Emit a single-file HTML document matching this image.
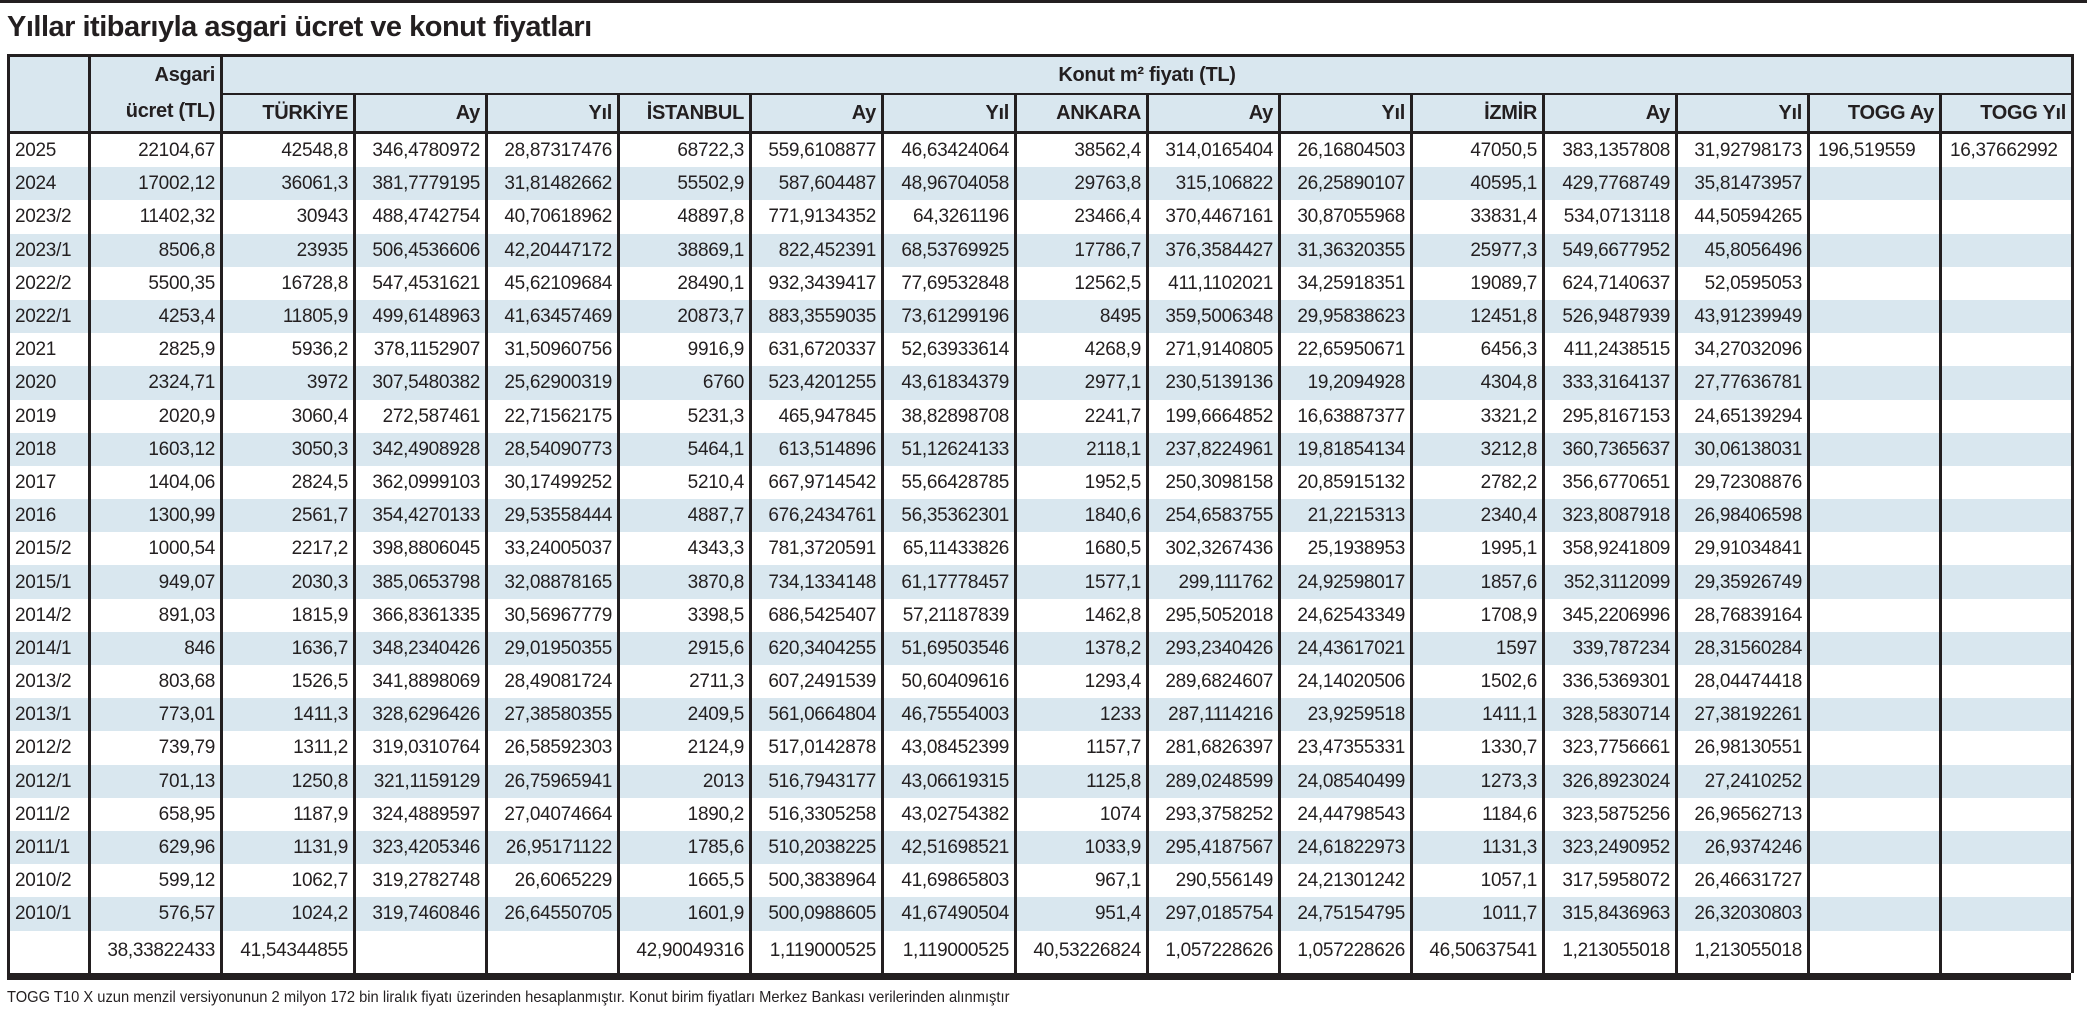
<!DOCTYPE html>
<html><head><meta charset="utf-8">
<style>
body{margin:0;width:2087px;height:1019px;background:#fff;position:relative;overflow:hidden;font-family:"Liberation Sans Narrow","Liberation Sans",sans-serif;color:#231f20}
.rule{position:absolute;left:0;top:0;width:2087px;height:3px;background:#231f20}
.title{position:absolute;left:7px;top:11px;font-size:29px;font-weight:bold;letter-spacing:-0.5px;white-space:nowrap}
table{position:absolute;left:7px;top:54px;width:2064px;border-collapse:collapse;table-layout:fixed;border-top:3px solid #231f20}
td{font-size:19px;letter-spacing:-0.3px;padding:0 5px 0 5px;white-space:nowrap;overflow:hidden;border-left:3px solid #231f20;border-right:3px solid #231f20;text-align:right;height:33.2px;line-height:33px}
td.y{text-align:left}
td.l{text-align:left;padding-left:8px}
tr.b td{background:#d9e7ef}
tr.h td{background:#d9e7ef;font-weight:bold;height:36px;line-height:36px;font-size:20px}
tr.h2 td{border-bottom:3px solid #231f20}
tr.s td{height:42px;line-height:40px;vertical-align:top}
.bar{position:absolute;left:7px;top:973px;width:2064px;height:7px;background:#231f20}
.foot{position:absolute;left:7px;top:989px;font-size:16px;white-space:nowrap;transform:scaleX(0.92);transform-origin:left top}
</style></head><body>
<div class="rule"></div>
<div class="title">Yıllar itibarıyla asgari ücret ve konut fiyatları</div>
<table>
<colgroup><col style="width:81px"><col style="width:132px"><col style="width:133px"><col style="width:132px"><col style="width:132px"><col style="width:132px"><col style="width:132px"><col style="width:133px"><col style="width:132px"><col style="width:132px"><col style="width:132px"><col style="width:132px"><col style="width:133px"><col style="width:132px"><col style="width:132px"><col style="width:132px"></colgroup>
<tr class="h"><td rowspan="2" style="border-bottom:3px solid #231f20"></td><td rowspan="2" style="border-bottom:3px solid #231f20;line-height:36px;vertical-align:top">Asgari<br>ücret (TL)</td><td colspan="14" style="text-align:center;border-bottom:2px solid #231f20">Konut m² fiyatı (TL)</td></tr>
<tr class="h h2"><td>TÜRKİYE</td><td>Ay</td><td>Yıl</td><td>İSTANBUL</td><td>Ay</td><td>Yıl</td><td>ANKARA</td><td>Ay</td><td>Yıl</td><td>İZMİR</td><td>Ay</td><td>Yıl</td><td>TOGG Ay</td><td>TOGG Yıl</td></tr>
<tr><td class="y">2025</td><td>22104,67</td><td>42548,8</td><td>346,4780972</td><td>28,87317476</td><td>68722,3</td><td>559,6108877</td><td>46,63424064</td><td>38562,4</td><td>314,0165404</td><td>26,16804503</td><td>47050,5</td><td>383,1357808</td><td>31,92798173</td><td class="l">196,519559</td><td class="l">16,37662992</td></tr>
<tr class="b"><td class="y">2024</td><td>17002,12</td><td>36061,3</td><td>381,7779195</td><td>31,81482662</td><td>55502,9</td><td>587,604487</td><td>48,96704058</td><td>29763,8</td><td>315,106822</td><td>26,25890107</td><td>40595,1</td><td>429,7768749</td><td>35,81473957</td><td></td><td></td></tr>
<tr><td class="y">2023/2</td><td>11402,32</td><td>30943</td><td>488,4742754</td><td>40,70618962</td><td>48897,8</td><td>771,9134352</td><td>64,3261196</td><td>23466,4</td><td>370,4467161</td><td>30,87055968</td><td>33831,4</td><td>534,0713118</td><td>44,50594265</td><td></td><td></td></tr>
<tr class="b"><td class="y">2023/1</td><td>8506,8</td><td>23935</td><td>506,4536606</td><td>42,20447172</td><td>38869,1</td><td>822,452391</td><td>68,53769925</td><td>17786,7</td><td>376,3584427</td><td>31,36320355</td><td>25977,3</td><td>549,6677952</td><td>45,8056496</td><td></td><td></td></tr>
<tr><td class="y">2022/2</td><td>5500,35</td><td>16728,8</td><td>547,4531621</td><td>45,62109684</td><td>28490,1</td><td>932,3439417</td><td>77,69532848</td><td>12562,5</td><td>411,1102021</td><td>34,25918351</td><td>19089,7</td><td>624,7140637</td><td>52,0595053</td><td></td><td></td></tr>
<tr class="b"><td class="y">2022/1</td><td>4253,4</td><td>11805,9</td><td>499,6148963</td><td>41,63457469</td><td>20873,7</td><td>883,3559035</td><td>73,61299196</td><td>8495</td><td>359,5006348</td><td>29,95838623</td><td>12451,8</td><td>526,9487939</td><td>43,91239949</td><td></td><td></td></tr>
<tr><td class="y">2021</td><td>2825,9</td><td>5936,2</td><td>378,1152907</td><td>31,50960756</td><td>9916,9</td><td>631,6720337</td><td>52,63933614</td><td>4268,9</td><td>271,9140805</td><td>22,65950671</td><td>6456,3</td><td>411,2438515</td><td>34,27032096</td><td></td><td></td></tr>
<tr class="b"><td class="y">2020</td><td>2324,71</td><td>3972</td><td>307,5480382</td><td>25,62900319</td><td>6760</td><td>523,4201255</td><td>43,61834379</td><td>2977,1</td><td>230,5139136</td><td>19,2094928</td><td>4304,8</td><td>333,3164137</td><td>27,77636781</td><td></td><td></td></tr>
<tr><td class="y">2019</td><td>2020,9</td><td>3060,4</td><td>272,587461</td><td>22,71562175</td><td>5231,3</td><td>465,947845</td><td>38,82898708</td><td>2241,7</td><td>199,6664852</td><td>16,63887377</td><td>3321,2</td><td>295,8167153</td><td>24,65139294</td><td></td><td></td></tr>
<tr class="b"><td class="y">2018</td><td>1603,12</td><td>3050,3</td><td>342,4908928</td><td>28,54090773</td><td>5464,1</td><td>613,514896</td><td>51,12624133</td><td>2118,1</td><td>237,8224961</td><td>19,81854134</td><td>3212,8</td><td>360,7365637</td><td>30,06138031</td><td></td><td></td></tr>
<tr><td class="y">2017</td><td>1404,06</td><td>2824,5</td><td>362,0999103</td><td>30,17499252</td><td>5210,4</td><td>667,9714542</td><td>55,66428785</td><td>1952,5</td><td>250,3098158</td><td>20,85915132</td><td>2782,2</td><td>356,6770651</td><td>29,72308876</td><td></td><td></td></tr>
<tr class="b"><td class="y">2016</td><td>1300,99</td><td>2561,7</td><td>354,4270133</td><td>29,53558444</td><td>4887,7</td><td>676,2434761</td><td>56,35362301</td><td>1840,6</td><td>254,6583755</td><td>21,2215313</td><td>2340,4</td><td>323,8087918</td><td>26,98406598</td><td></td><td></td></tr>
<tr><td class="y">2015/2</td><td>1000,54</td><td>2217,2</td><td>398,8806045</td><td>33,24005037</td><td>4343,3</td><td>781,3720591</td><td>65,11433826</td><td>1680,5</td><td>302,3267436</td><td>25,1938953</td><td>1995,1</td><td>358,9241809</td><td>29,91034841</td><td></td><td></td></tr>
<tr class="b"><td class="y">2015/1</td><td>949,07</td><td>2030,3</td><td>385,0653798</td><td>32,08878165</td><td>3870,8</td><td>734,1334148</td><td>61,17778457</td><td>1577,1</td><td>299,111762</td><td>24,92598017</td><td>1857,6</td><td>352,3112099</td><td>29,35926749</td><td></td><td></td></tr>
<tr><td class="y">2014/2</td><td>891,03</td><td>1815,9</td><td>366,8361335</td><td>30,56967779</td><td>3398,5</td><td>686,5425407</td><td>57,21187839</td><td>1462,8</td><td>295,5052018</td><td>24,62543349</td><td>1708,9</td><td>345,2206996</td><td>28,76839164</td><td></td><td></td></tr>
<tr class="b"><td class="y">2014/1</td><td>846</td><td>1636,7</td><td>348,2340426</td><td>29,01950355</td><td>2915,6</td><td>620,3404255</td><td>51,69503546</td><td>1378,2</td><td>293,2340426</td><td>24,43617021</td><td>1597</td><td>339,787234</td><td>28,31560284</td><td></td><td></td></tr>
<tr><td class="y">2013/2</td><td>803,68</td><td>1526,5</td><td>341,8898069</td><td>28,49081724</td><td>2711,3</td><td>607,2491539</td><td>50,60409616</td><td>1293,4</td><td>289,6824607</td><td>24,14020506</td><td>1502,6</td><td>336,5369301</td><td>28,04474418</td><td></td><td></td></tr>
<tr class="b"><td class="y">2013/1</td><td>773,01</td><td>1411,3</td><td>328,6296426</td><td>27,38580355</td><td>2409,5</td><td>561,0664804</td><td>46,75554003</td><td>1233</td><td>287,1114216</td><td>23,9259518</td><td>1411,1</td><td>328,5830714</td><td>27,38192261</td><td></td><td></td></tr>
<tr><td class="y">2012/2</td><td>739,79</td><td>1311,2</td><td>319,0310764</td><td>26,58592303</td><td>2124,9</td><td>517,0142878</td><td>43,08452399</td><td>1157,7</td><td>281,6826397</td><td>23,47355331</td><td>1330,7</td><td>323,7756661</td><td>26,98130551</td><td></td><td></td></tr>
<tr class="b"><td class="y">2012/1</td><td>701,13</td><td>1250,8</td><td>321,1159129</td><td>26,75965941</td><td>2013</td><td>516,7943177</td><td>43,06619315</td><td>1125,8</td><td>289,0248599</td><td>24,08540499</td><td>1273,3</td><td>326,8923024</td><td>27,2410252</td><td></td><td></td></tr>
<tr><td class="y">2011/2</td><td>658,95</td><td>1187,9</td><td>324,4889597</td><td>27,04074664</td><td>1890,2</td><td>516,3305258</td><td>43,02754382</td><td>1074</td><td>293,3758252</td><td>24,44798543</td><td>1184,6</td><td>323,5875256</td><td>26,96562713</td><td></td><td></td></tr>
<tr class="b"><td class="y">2011/1</td><td>629,96</td><td>1131,9</td><td>323,4205346</td><td>26,95171122</td><td>1785,6</td><td>510,2038225</td><td>42,51698521</td><td>1033,9</td><td>295,4187567</td><td>24,61822973</td><td>1131,3</td><td>323,2490952</td><td>26,9374246</td><td></td><td></td></tr>
<tr><td class="y">2010/2</td><td>599,12</td><td>1062,7</td><td>319,2782748</td><td>26,6065229</td><td>1665,5</td><td>500,3838964</td><td>41,69865803</td><td>967,1</td><td>290,556149</td><td>24,21301242</td><td>1057,1</td><td>317,5958072</td><td>26,46631727</td><td></td><td></td></tr>
<tr class="b"><td class="y">2010/1</td><td>576,57</td><td>1024,2</td><td>319,7460846</td><td>26,64550705</td><td>1601,9</td><td>500,0988605</td><td>41,67490504</td><td>951,4</td><td>297,0185754</td><td>24,75154795</td><td>1011,7</td><td>315,8436963</td><td>26,32030803</td><td></td><td></td></tr>
<tr class="s"><td class="y"></td><td>38,33822433</td><td>41,54344855</td><td></td><td></td><td>42,90049316</td><td>1,119000525</td><td>1,119000525</td><td>40,53226824</td><td>1,057228626</td><td>1,057228626</td><td>46,50637541</td><td>1,213055018</td><td>1,213055018</td><td></td><td></td></tr>
</table>
<div class="bar"></div>
<div class="foot">TOGG T10 X uzun menzil versiyonunun 2 milyon 172 bin liralık fiyatı üzerinden hesaplanmıştır. Konut birim fiyatları Merkez Bankası verilerinden alınmıştır</div>
</body></html>
